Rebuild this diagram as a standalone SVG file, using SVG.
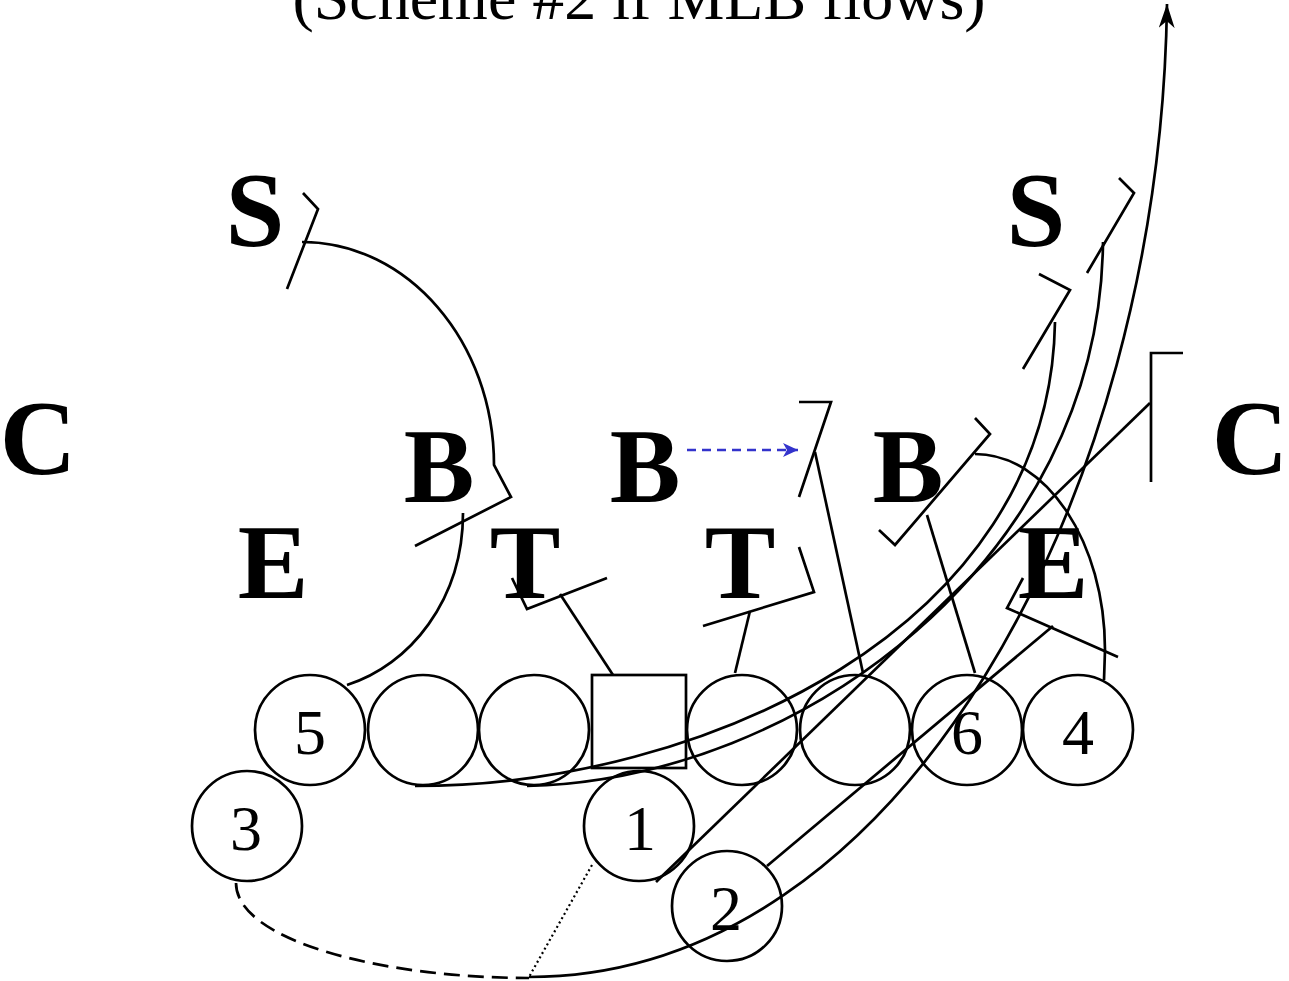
<svg xmlns="http://www.w3.org/2000/svg" width="1289" height="981" viewBox="0 0 1289 981">
<style>
.def{font-family:"Liberation Serif","Times New Roman",serif;font-weight:bold;font-size:106px;fill:#000;text-anchor:middle}
.num{font-family:"Liberation Serif","Times New Roman",serif;font-size:64px;fill:#000;text-anchor:middle}
.title{font-family:"Liberation Serif","Times New Roman",serif;font-size:64px;fill:#000;text-anchor:middle}
.pl{fill:none;stroke:#000;stroke-width:2.7}
.ln{fill:none;stroke:#000;stroke-width:2.7;stroke-linejoin:miter}
.dash{fill:none;stroke:#000;stroke-width:2.7;stroke-dasharray:16 8}
.dot{fill:none;stroke:#000;stroke-width:2.2;stroke-dasharray:2 3}
.blue{fill:none;stroke:#3333cc;stroke-width:2.5;stroke-dasharray:9 6}
</style>
<defs>
<marker id="arrowBlack" markerUnits="userSpaceOnUse" viewBox="0 0 24 16" markerWidth="24" markerHeight="16" refX="24" refY="8" orient="auto">
<path d="M0,0 L24,8 L0,16 L7,8 z" fill="#000"/>
</marker>
<marker id="arrowBlue" markerUnits="userSpaceOnUse" viewBox="0 0 15 14" markerWidth="15" markerHeight="14" refX="15" refY="7" orient="auto">
<path d="M0,0 L15,7 L0,14 L4,7 z" fill="#3333cc"/>
</marker>
</defs>
<rect width="1289" height="981" fill="#fff"/>
<text class="title" x="639" y="19">(Scheme #2 if MLB flows)</text>

<g id="connectors">
<polyline class="ln" points="303,193 318,209 287,289"/>
<path class="ln" d="M302,242 C408,242 494,342 494,465 L511,497 L415,546"/>
<path class="ln" d="M347,685 C410,665 463,600 463,513"/>
<polyline class="ln" points="512,578 527,609 607,578"/>
<line class="ln" x1="560" y1="594" x2="613" y2="675"/>
<polyline class="ln" points="799,547 814,592 703,626"/>
<line class="ln" x1="750" y1="611" x2="735" y2="673"/>
<path class="blue" d="M687,450 L798,450" marker-end="url(#arrowBlue)"/>
<polyline class="ln" points="799,402 831,402 799,497"/>
<line class="ln" x1="815" y1="452" x2="863" y2="673"/>
<polyline class="ln" points="975,418 990,434 895,545 879,530"/>
<line class="ln" x1="927" y1="515" x2="975" y2="673"/>
<path class="ln" d="M975,454 C1047,454 1105,543 1105,650 L1104,680"/>
<polyline class="ln" points="1023,578 1007,608 1118,657"/>
<line class="ln" x1="767" y1="866" x2="1053" y2="626"/>
<polyline class="ln" points="1119,178 1134,193 1087,273"/>
<polyline class="ln" points="1039,274 1070,290 1023,369"/>
<polyline class="ln" points="1183,353 1151,353 1151,482"/>
<line class="ln" x1="656" y1="882" x2="1150" y2="403"/>
<path class="ln" d="M415,786 C700,786 1050,630 1055,322"/>
<path class="ln" d="M527,786 C800,780 1100,560 1103,242"/>
<path class="dash" d="M236,883 C236,940 380,978 529,978"/>
<line class="dot" x1="592" y1="865" x2="529" y2="977"/>
<path class="ln" d="M529,977 C900,977 1160,500 1167,4" marker-end="url(#arrowBlack)"/>
</g>

<g id="def-S-left"><text class="def" x="255" y="246">S</text></g>
<g id="def-S-right"><text class="def" x="1036" y="246">S</text></g>
<g id="def-C-left"><text class="def" x="38" y="474">C</text></g>
<g id="def-C-right"><text class="def" x="1250" y="474">C</text></g>
<g id="def-B-left"><text class="def" x="439" y="502">B</text></g>
<g id="def-B-mid"><text class="def" x="645" y="502">B</text></g>
<g id="def-B-right"><text class="def" x="908" y="502">B</text></g>
<g id="def-E-left"><text class="def" x="273" y="598">E</text></g>
<g id="def-T-left"><text class="def" x="525" y="598">T</text></g>
<g id="def-T-right"><text class="def" x="740" y="598">T</text></g>
<g id="def-E-right"><text class="def" x="1053" y="598">E</text></g>

<g id="off-5"><circle class="pl" cx="310" cy="730" r="55"/><text class="num" x="310" y="754">5</text></g>
<g id="off-LT"><circle class="pl" cx="423" cy="730" r="55"/></g>
<g id="off-LG"><circle class="pl" cx="534" cy="730" r="55"/></g>
<g id="off-C"><rect class="pl" x="592" y="675" width="94" height="93"/></g>
<g id="off-RG"><circle class="pl" cx="742" cy="730" r="55"/></g>
<g id="off-RT"><circle class="pl" cx="855" cy="730" r="55"/></g>
<g id="off-6"><circle class="pl" cx="967" cy="730" r="55"/><text class="num" x="967" y="754">6</text></g>
<g id="off-4"><circle class="pl" cx="1078" cy="730" r="55"/><text class="num" x="1078" y="754">4</text></g>
<g id="off-3"><circle class="pl" cx="247" cy="826" r="55"/><text class="num" x="246" y="850">3</text></g>
<g id="off-1"><circle class="pl" cx="639" cy="826" r="55"/><text class="num" x="640" y="850">1</text></g>
<g id="off-2"><circle class="pl" cx="727" cy="906" r="55"/><text class="num" x="726" y="930">2</text></g>
</svg>
